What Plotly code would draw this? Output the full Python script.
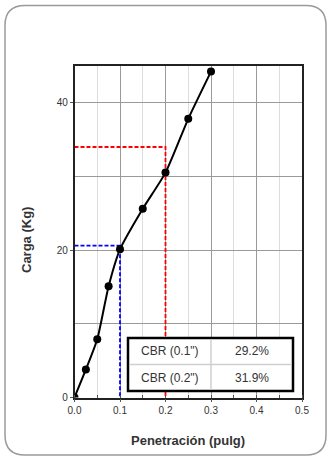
import plotly.graph_objects as go

# Ensayo CBR: curva carga-penetración
penetracion = [0.0, 0.025, 0.05, 0.075, 0.1, 0.15, 0.2, 0.25, 0.3]   # pulg
carga = [0.0, 3.8, 7.9, 15.1, 20.1, 25.6, 30.5, 37.8, 44.2]          # Kg

# Resultados CBR y cargas patrón usadas para obtenerlos
cbr_pen = [0.1, 0.2]
cbr_labels = ['CBR (0.1")', 'CBR (0.2")']
cbr_values = [29.2, 31.9]          # %
carga_patron = [70.5, 106.5]       # Kg
cbr_colors = ["#0000ff", "#ff0000"]

x_ticks = [0.0, 0.1, 0.2, 0.3, 0.4, 0.5]
y_ticks = [0, 20, 40]

W, H = 329, 457
FONT = "Liberation Sans, Arial, sans-serif"


def px(x):
    return x / W


def py(y):
    return 1 - y / H


fig = go.Figure()

# Líneas de lectura del CBR (carga corregida a 0.1" y 0.2")
for pen, val, std, col in zip(cbr_pen, cbr_values, carga_patron, cbr_colors):
    load = val / 100 * std
    fig.add_trace(go.Scatter(
        x=[0, pen, pen], y=[load, load, 0], mode="lines",
        line=dict(color=col, width=1.8, dash="4px,2px"),
        hoverinfo="skip", showlegend=False,
    ))

# Curva de carga
fig.add_trace(go.Scatter(
    x=penetracion, y=carga, mode="lines+markers",
    line=dict(color="black", width=2, shape="spline", smoothing=0.6),
    marker=dict(color="black", size=8),
    showlegend=False,
))

# Marco redondeado de la tarjeta
x0, x1, y0, y1, r = 5, 326, 5.5, 455, 20
rx, ry = r / W, r / H
card = (
    f"M {px(x0) + rx} {py(y0)} L {px(x1) - rx} {py(y0)} "
    f"Q {px(x1)} {py(y0)} {px(x1)} {py(y0) - ry} "
    f"L {px(x1)} {py(y1) + ry} Q {px(x1)} {py(y1)} {px(x1) - rx} {py(y1)} "
    f"L {px(x0) + rx} {py(y1)} Q {px(x0)} {py(y1)} {px(x0)} {py(y1) + ry} "
    f"L {px(x0)} {py(y0) - ry} Q {px(x0)} {py(y0)} {px(x0) + rx} {py(y0)} Z"
)
shapes = [dict(type="path", xref="paper", yref="paper", path=card,
               line=dict(color="#9a9a9a", width=1.5), fillcolor="white",
               layer="below")]

# Tabla de resultados
tx0, tx1, ty0, ty1 = 128, 293, 338, 391
tmidx, tmidy = 211, 364.5
shapes += [
    dict(type="rect", xref="paper", yref="paper",
         x0=px(tx0), x1=px(tx1), y0=py(ty1), y1=py(ty0),
         line=dict(color="black", width=2.5), fillcolor="white", layer="above"),
    dict(type="line", xref="paper", yref="paper",
         x0=px(tmidx), x1=px(tmidx), y0=py(ty1 - 1.5), y1=py(ty0 + 1.5),
         line=dict(color="#cfcfcf", width=1.5), layer="above"),
    dict(type="line", xref="paper", yref="paper",
         x0=px(tx0 + 1.5), x1=px(tx1 - 1.5), y0=py(tmidy), y1=py(tmidy),
         line=dict(color="#cfcfcf", width=1.5), layer="above"),
]


def label(x, y, text, size, angle=0):
    return dict(xref="paper", yref="paper", x=px(x), y=py(y), text=text,
                showarrow=False, xanchor="center", yanchor="middle",
                textangle=angle,
                font=dict(family=FONT, size=size, color="#333333"))


annotations = []
row_y = [(ty0 + tmidy) / 2, (tmidy + ty1) / 2]
for lbl, val, yy in zip(cbr_labels, cbr_values, row_y):
    annotations.append(label((tx0 + tmidx) / 2, yy, lbl, 12))
    annotations.append(label((tmidx + tx1) / 2, yy, f"{val:.1f}%", 12))

# Títulos de ejes
annotations.append(label(188, 440, "<b>Penetración (pulg)</b>", 13))
annotations.append(label(27, 240, "<b>Carga (Kg)</b>", 13, angle=-90))

fig.update_layout(
    width=W, height=H,
    margin=dict(l=0, r=0, t=0, b=0),
    paper_bgcolor="white", plot_bgcolor="rgba(0,0,0,0)",
    shapes=shapes, annotations=annotations,
    xaxis=dict(
        domain=[px(74.5), px(302)], range=[0, 0.5],
        tickvals=x_ticks, ticktext=[f"{v:.1f}" for v in x_ticks],
        showgrid=True, gridcolor="#9a9a9a", gridwidth=1,
        minor=dict(dtick=0.05, showgrid=True, gridcolor="#dcdcdc", gridwidth=1,
                   ticks="inside", ticklen=3, tickcolor="#555555"),
        showline=True, linecolor="#222222", linewidth=1.5, mirror=True,
        ticks="outside", ticklen=3, tickcolor="#555555",
        zeroline=False, automargin=False, fixedrange=True,
        tickfont=dict(family=FONT, size=10, color="#333333"),
    ),
    yaxis=dict(
        domain=[py(397.5), py(65.7)], range=[0, 45],
        tickvals=y_ticks,
        showgrid=True, gridcolor="#9a9a9a", gridwidth=1,
        minor=dict(dtick=10, showgrid=True, gridcolor="#9a9a9a", gridwidth=1),
        showline=True, linecolor="#222222", linewidth=1.5, mirror=True,
        ticks="outside", ticklen=3, tickcolor="#555555",
        zeroline=False, automargin=False, fixedrange=True,
        tickfont=dict(family=FONT, size=10, color="#333333"),
    ),
)

fig.write_html("out.html")
